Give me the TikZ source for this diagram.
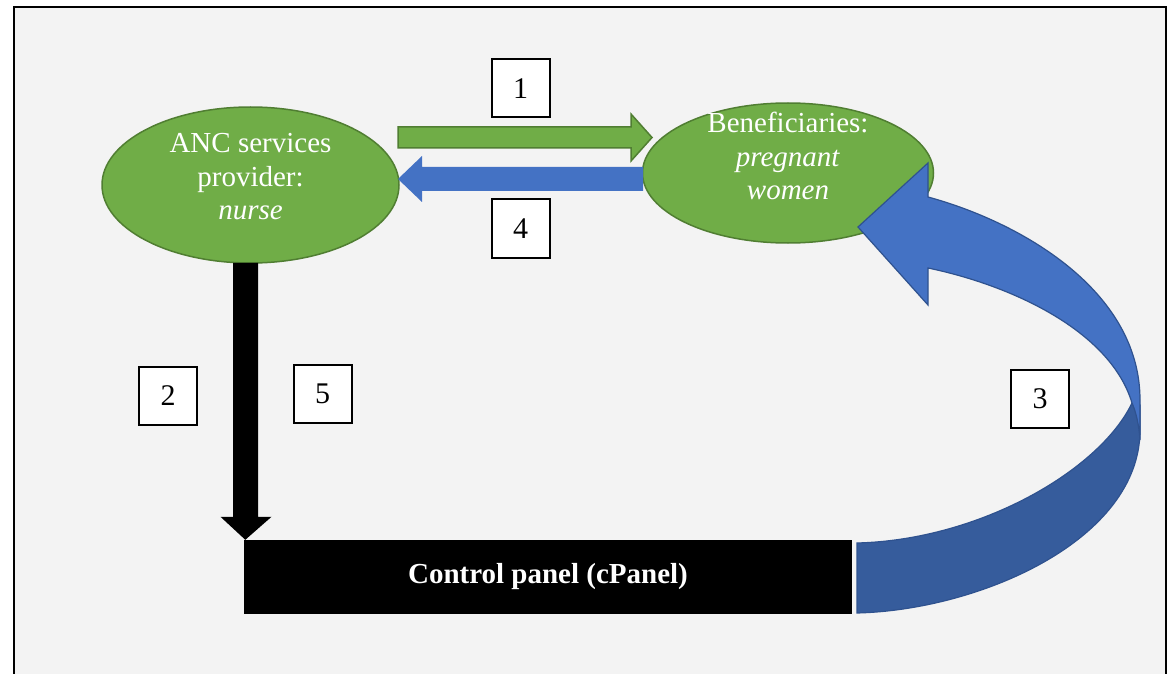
\documentclass[tikz,border=0pt]{standalone}
\usepackage{fontspec}
\setmainfont{Liberation Serif}
\usetikzlibrary{shapes.geometric,calc}
\definecolor{panelbg}{HTML}{F3F3F3}
\definecolor{leaf}{HTML}{70AD47}
\definecolor{leafline}{HTML}{507E32}
\definecolor{sky}{HTML}{4472C4}
\definecolor{skyline}{HTML}{2F528F}
\definecolor{skydark}{HTML}{365C9C}
\begin{document}
\begin{tikzpicture}[x=1pt,y=-1pt,
  actor/.style={ellipse, fill=leaf, draw=leafline, line width=1.5, inner sep=0},
  actortext/.style={text=white, align=center, font=\fontsize{29}{33.5}\selectfont},
  tag/.style={draw=black, fill=white, line width=2, minimum width=58, minimum height=58,
              inner sep=0, font=\fontsize{30}{34}\selectfont},
  bluearrow/.style={fill=sky, draw=skyline, line width=1.2, line join=miter},
  greenarrow/.style={fill=leaf, draw=leafline, line width=1.5, line join=miter},
]
\useasboundingbox (0,0) rectangle (1168,674);
\fill[white] (0,0) rectangle (1168,674);
% framed panel
\filldraw[fill=panelbg, draw=black, line width=2] (14,7.5) rectangle (1165.5,690);

% the two actors
\node[actor, minimum width=297, minimum height=156] (anc) at (250.5,185) {};
\node[actortext] (anctext) at (250.5,177) {ANC services\\provider:\\\textit{nurse}};
\node[actor, minimum width=291, minimum height=140] (ben) at (788,173) {};
\node[actortext] (bentext) at (788,156) {Beneficiaries:\\\textit{pregnant}\\\textit{women}};

% control panel
\node[fill=black, minimum width=608, minimum height=74, inner sep=0, text=white,
      font=\fontsize{29}{34}\selectfont\bfseries] (cp) at (548,577) {Control panel (cPanel)};

% arrow 1: provider -> beneficiaries
\coordinate (g0) at (398,137.5);
\coordinate (g1) at (652,137.5);
\filldraw[greenarrow] ($(g0)+(0,-10.5)$) -- ($(g1)+(-21,-10.5)$) -- ($(g1)+(-21,-23.5)$) -- (g1)
  -- ($(g1)+(-21,23.5)$) -- ($(g1)+(-21,10.5)$) -- ($(g0)+(0,10.5)$) -- cycle;

% arrow 4: beneficiaries -> provider
\coordinate (b0) at (643,179);
\coordinate (b1) at (398,179);
\fill[sky] ($(b0)+(0,-12)$) -- ($(b1)+(24,-12)$) -- ($(b1)+(24,-23)$) -- (b1)
  -- ($(b1)+(24,23)$) -- ($(b1)+(24,12)$) -- ($(b0)+(0,12)$) -- cycle;

% arrows 2 and 5: provider -> control panel
\coordinate (k0) at ($(anc.south)+(-5,-1)$);
\coordinate (k1) at ($(cp.north west)+(1.5,0)$);
\fill[black] ($(k0)+(-12.5,0)$) -- ($(k0 |- k1)+(-12.5,-23)$) -- ($(k0 |- k1)+(-25,-23)$) -- (k1)
  -- ($(k0 |- k1)+(26,-23)$) -- ($(k0 |- k1)+(12.5,-23)$) -- ($(k0)+(12.5,0)$) -- cycle;

% arrow 3: control panel -> beneficiaries (curved, back side first)
\filldraw[fill=skydark, draw=skyline, line width=1.2]
  (857,543) -- (857,613) .. controls (980,610) and (1140,540) .. (1140,430)
  -- (1140,405) -- (1132,403) .. controls (1100,470) and (980,540) .. (857,543) -- cycle;
\filldraw[bluearrow]
  (858,227) -- (928,163) -- (928,197) .. controls (1020,222) and (1140,290) .. (1140,400)
  -- (1140,440) .. controls (1139,425) and (1136,412) .. (1132,403)
  .. controls (1110,330) and (1010,285) .. (928,268) -- (928,305) -- cycle;

% step numbers
\node[tag] (t1) at (520.5,88.5) {1};
\node[tag] (t2) at (168,396) {2};
\node[tag] (t3) at (1040,399) {3};
\node[tag] (t4) at (520.5,228.5) {4};
\node[tag] (t5) at (322.5,394) {5};
\end{tikzpicture}
\end{document}
